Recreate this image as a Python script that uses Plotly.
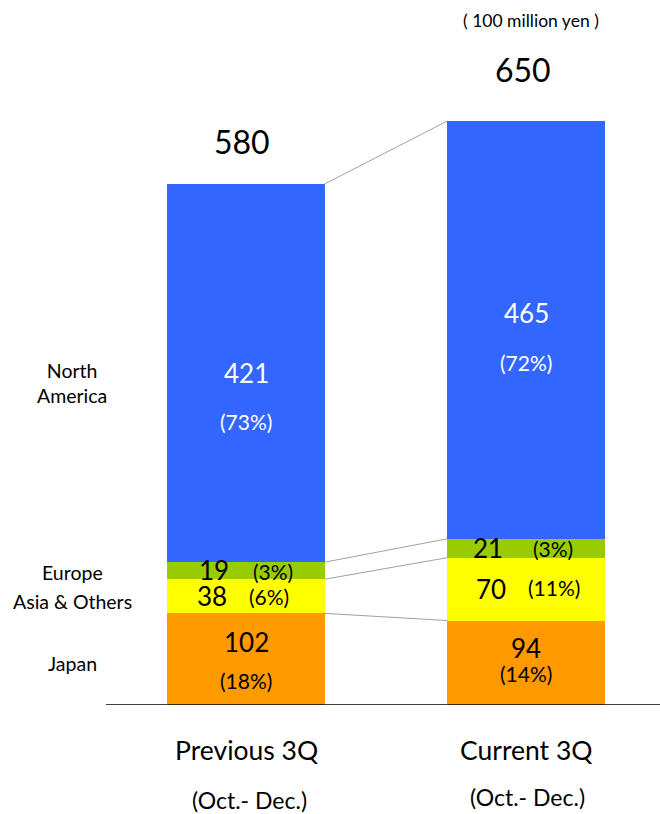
import plotly.graph_objects as go

# ---- data ----
periods = ["Previous 3Q", "Current 3Q"]
period_sub = ["(Oct.- Dec.)", "(Oct.- Dec.)"]
regions = ["Japan", "Asia & Others", "Europe", "North America"]
region_labels = ["Japan", "Asia & Others", "Europe", "North<br>America"]
japan = [102, 94]
asia = [38, 70]
europe = [19, 21]
north_america = [421, 465]
totals = [580, 650]
pct_japan = ["(18%)", "(14%)"]
pct_asia = ["(6%)", "(11%)"]
pct_europe = ["(3%)", "(3%)"]
pct_na = ["(73%)", "(72%)"]
unit_label = "( 100 million yen )"

colors = {"Japan": "#FF9900", "Asia & Others": "#FFFF00",
          "Europe": "#99CC00", "North America": "#3366FF"}
FONT = "Lato, Carlito, Calibri, sans-serif"

xs = [0, 1]
bw = 0.5625
series = [japan, asia, europe, north_america]

fig = go.Figure()
for name, vals in zip(regions, series):
    fig.add_trace(go.Bar(x=xs, y=vals, name=name, width=bw,
                         marker=dict(color=colors[name], line=dict(width=0)),
                         hoverinfo="skip", showlegend=False))

# cumulative levels
cum = []
run = [0, 0]
for vals in series:
    run = [run[i] + vals[i] for i in range(2)]
    cum.append(run[:])
bases = [[0, 0]] + cum[:-1]

shapes = []
# connectors
for lvl in cum:
    shapes.append(dict(type="line", xref="x", yref="y", x0=xs[0] + bw / 2, x1=xs[1] - bw / 2,
                       y0=lvl[0], y1=lvl[1], line=dict(color="#A0A0A0", width=1)))
# baseline
shapes.append(dict(type="line", xref="paper", yref="y", x0=106 / 660, x1=1, y0=0, y1=0,
                   line=dict(color="#000000", width=1.5)))

ann = []
def A(x, y, text, size, color="#000000", xshift=0, yshift=0, xref="x", yref="y"):
    ann.append(dict(x=x, y=y, xref=xref, yref=yref, text=text, showarrow=False,
                    xanchor="center", yanchor="middle", xshift=xshift, yshift=yshift,
                    font=dict(family=FONT, size=size, color=color)))

def mid(k, i):
    return bases[k][i] + series[k][i] / 2

VS, PS = 26, 21
# Japan
A(0, mid(0, 0), str(japan[0]), VS, yshift=17)
A(0, mid(0, 0), pct_japan[0], PS, yshift=-21)
A(1, mid(0, 1), str(japan[1]), VS, yshift=15)
A(1, mid(0, 1), pct_japan[1], PS, yshift=-11)
# Asia
A(0, mid(1, 0), str(asia[0]), VS, xshift=-34)
A(0, mid(1, 0), pct_asia[0], PS, xshift=23)
A(1, mid(1, 1), str(asia[1]), VS, xshift=-35)
A(1, mid(1, 1), pct_asia[1], PS, xshift=28, yshift=2)
# Europe
A(0, mid(2, 0), str(europe[0]), VS, xshift=-32, yshift=1)
A(0, mid(2, 0), pct_europe[0], PS, xshift=27, yshift=-1)
A(1, mid(2, 1), str(europe[1]), VS, xshift=-38)
A(1, mid(2, 1), pct_europe[1], PS, xshift=27)
# North America
A(0, mid(3, 0), str(north_america[0]), VS, color="#FFFFFF")
A(0, mid(3, 0), pct_na[0], PS, color="#FFFFFF", yshift=-48)
A(1, mid(3, 1), str(north_america[1]), VS, color="#FFFFFF", yshift=17)
A(1, mid(3, 1), pct_na[1], PS, color="#FFFFFF", yshift=-33)
# totals
A(0, totals[0], str(totals[0]), 32, xshift=-4, yshift=42)
A(1, totals[1], str(totals[1]), 32, xshift=-3, yshift=52)

# region labels on the left
lab_shift = [-4, -5, -2, -10]
for k, lab in enumerate(region_labels):
    A(72 / 660, mid(k, 0), lab, 19.5, xref="paper", yshift=lab_shift[k])

# category labels
A(0, 0, periods[0], 26.5, xshift=0, yshift=-45)
A(0, 0, period_sub[0], 23, xshift=3, yshift=-95)
A(1, 0, periods[1], 26.5, xshift=0, yshift=-45)
A(1, 0, period_sub[1], 23, xshift=1, yshift=-92)

# unit label
A(531 / 660, (705 - 20) / 705, unit_label, 17.5, xref="paper", yref="paper")

fig.update_layout(
    width=660, height=814, barmode="stack", bargap=0,
    margin=dict(l=0, r=0, t=0, b=109, pad=0),
    paper_bgcolor="#FFFFFF", plot_bgcolor="#FFFFFF",
    xaxis=dict(range=[-246 / 280, (660 - 246) / 280], visible=False, fixedrange=True),
    yaxis=dict(range=[0, 705 / 0.8984], visible=False, fixedrange=True),
    shapes=shapes, annotations=ann, showlegend=False,
)

fig.write_html("out.html", config={"displayModeBar": False},
               post_script="document.body.style.margin='0';document.body.style.overflow='hidden';")
